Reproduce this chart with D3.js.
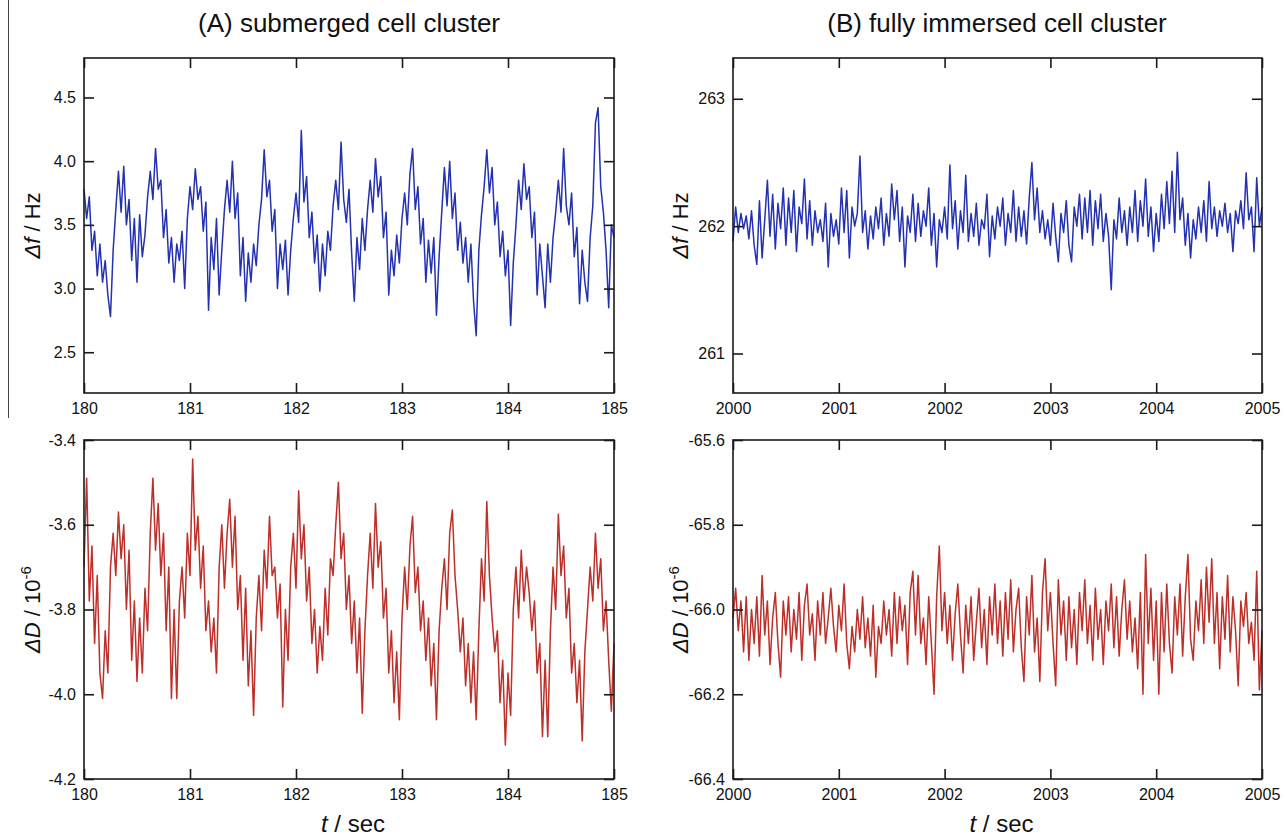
<!DOCTYPE html>
<html>
<head>
<meta charset="utf-8">
<script src="https://cdn.jsdelivr.net/npm/d3@7"></script>
<style>
  body { margin: 0; background: #fff; }
  svg text { font-family: "Liberation Sans", Arial, sans-serif; fill: #111; }
</style>
</head>
<body>
<svg id="chart" width="1287" height="837"></svg>
<script>
// Data. Samples are 0.025 s apart.
const titles = ["(A) submerged cell cluster", "(B) fully immersed cell cluster"];
const sampleStep = 0.025;
const tickTimeA = [180, 181, 182, 183, 184, 185];
const tickTimeB = [2000, 2001, 2002, 2003, 2004, 2005];
const tickFreqA = [2.5, 3.0, 3.5, 4.0, 4.5];
const tickFreqB = [261, 262, 263];
const tickDissA = [-4.2, -4.0, -3.8, -3.6, -3.4];
const tickDissB = [-66.4, -66.2, -66.0, -65.8, -65.6];

const freqA = [
  3.78,3.55,3.72,3.30,3.45,3.10,3.35,3.05,3.22,2.95,
  2.78,3.30,3.62,3.92,3.60,3.96,3.50,3.70,3.22,3.55,
  3.05,3.58,3.25,3.42,3.72,3.92,3.70,4.10,3.78,3.85,
  3.40,3.62,3.20,3.40,3.05,3.35,3.22,3.45,3.00,3.55,
  3.80,3.62,3.94,3.70,3.80,3.45,3.68,2.83,3.40,3.15,
  3.55,2.95,3.30,3.62,3.85,3.60,4.00,3.55,3.75,3.10,
  3.40,2.90,3.28,3.05,3.35,3.18,3.50,3.70,4.09,3.72,
  3.85,3.45,3.62,3.00,3.35,3.15,3.38,2.95,3.30,3.55,
  3.75,3.52,4.24,3.68,3.88,3.40,3.60,3.20,3.42,2.98,
  3.35,3.10,3.45,3.30,3.65,3.85,3.62,4.15,3.70,3.52,
  3.78,3.28,2.90,3.40,3.15,3.55,3.30,3.62,3.85,3.60,
  4.02,3.72,3.88,3.40,3.60,2.95,3.30,3.10,3.42,3.20,
  3.55,3.75,3.50,3.90,4.10,3.62,3.80,3.35,3.55,3.05,
  3.38,3.12,3.40,2.79,3.25,3.60,3.95,3.65,4.00,3.55,
  3.75,3.30,3.52,3.20,3.40,3.05,3.35,2.90,2.63,3.30,
  3.58,3.80,4.09,3.75,3.95,3.50,3.68,3.25,3.45,3.10,
  3.30,2.71,3.20,3.50,3.85,3.62,3.98,3.70,3.80,3.40,
  3.60,2.95,3.35,3.10,2.85,3.35,3.05,3.40,3.60,3.85,
  3.60,4.10,3.65,3.50,3.75,3.25,3.48,2.88,3.30,3.05,
  2.90,3.40,3.65,4.30,4.42,3.80,3.60,3.30,2.85,3.50,
  3.40
];

const dissA = [
  -3.70,-3.49,-3.78,-3.65,-3.88,-3.72,-3.95,-4.01,-3.85,-3.95,
  -3.70,-3.62,-3.72,-3.57,-3.68,-3.60,-3.80,-3.66,-3.92,-3.78,
  -3.97,-3.82,-3.95,-3.75,-3.85,-3.62,-3.49,-3.66,-3.55,-3.72,
  -3.62,-3.85,-3.70,-4.01,-3.80,-4.01,-3.78,-3.70,-3.82,-3.62,
  -3.72,-3.445,-3.66,-3.58,-3.75,-3.65,-3.85,-3.78,-3.90,-3.82,
  -3.95,-3.70,-3.60,-3.75,-3.62,-3.54,-3.70,-3.58,-3.80,-3.72,
  -3.92,-3.75,-3.98,-3.85,-4.05,-3.82,-3.72,-3.85,-3.66,-3.75,
  -3.58,-3.72,-3.70,-3.82,-3.74,-4.03,-3.80,-3.92,-3.70,-3.62,
  -3.75,-3.52,-3.68,-3.60,-3.78,-3.70,-3.88,-3.80,-3.95,-3.84,
  -3.92,-3.75,-3.86,-3.68,-3.72,-3.60,-3.50,-3.68,-3.62,-3.80,
  -3.72,-3.88,-3.78,-3.95,-3.82,-4.045,-3.85,-3.72,-3.62,-3.75,
  -3.55,-3.70,-3.64,-3.82,-3.75,-3.95,-3.85,-4.02,-3.90,-4.06,
  -3.82,-3.70,-3.80,-3.65,-3.58,-3.76,-3.70,-3.85,-3.78,-3.92,
  -3.82,-3.98,-3.88,-4.06,-3.85,-3.75,-3.68,-3.80,-3.62,-3.565,
  -3.72,-3.80,-3.90,-3.82,-3.98,-3.88,-4.02,-3.90,-4.06,-3.85,
  -3.68,-3.78,-3.545,-3.72,-3.82,-3.90,-3.85,-4.02,-3.92,-4.12,
  -3.95,-4.05,-3.80,-3.70,-3.82,-3.66,-3.78,-3.70,-3.76,-3.85,
  -3.78,-3.95,-3.88,-4.10,-3.92,-4.10,-3.85,-3.70,-3.80,-3.575,
  -3.72,-3.65,-3.82,-3.75,-3.95,-3.88,-4.02,-3.92,-4.11,-3.90,
  -3.80,-3.70,-3.78,-3.62,-3.75,-3.68,-3.85,-3.78,-3.92,-4.04,
  -3.88
];

const freqB = [
  261.88,262.15,261.95,262.10,261.98,262.08,261.90,262.12,261.85,261.70,
  262.20,261.75,262.05,262.36,261.92,262.25,261.82,262.18,261.98,262.30,
  261.85,262.22,261.95,262.28,261.80,262.15,262.02,262.37,261.90,262.20,
  261.85,262.12,261.95,262.05,261.88,262.18,261.68,262.10,261.92,262.05,
  261.86,262.30,261.95,262.28,261.75,262.15,262.00,262.10,262.55,261.95,
  262.12,261.82,262.08,261.90,262.15,261.98,262.22,261.85,262.10,261.92,
  262.33,262.05,262.28,261.88,262.15,261.68,262.08,261.95,262.25,261.88,
  262.18,261.92,262.12,262.00,262.30,261.85,262.10,261.68,262.05,261.95,
  262.15,261.90,262.48,261.98,262.20,261.82,262.12,261.95,262.40,261.88,
  262.10,261.92,262.18,261.85,262.05,261.98,262.25,261.76,262.08,261.90,
  262.15,262.00,262.22,261.85,262.10,261.95,262.28,261.88,262.15,261.92,
  262.12,261.86,262.22,262.50,262.05,262.30,261.95,262.12,261.90,262.05,
  261.85,262.18,261.92,261.72,262.10,261.95,262.20,261.85,261.72,262.15,
  262.00,262.25,261.90,262.22,261.95,262.28,261.85,262.20,261.98,262.25,
  261.88,262.10,261.92,261.50,262.05,261.90,262.22,261.95,262.12,261.85,
  262.15,261.95,262.28,261.88,262.20,262.00,262.37,261.92,262.15,261.80,
  262.10,261.88,262.25,261.98,262.35,262.02,262.43,261.95,262.58,262.05,
  262.22,261.85,262.10,261.75,262.05,261.90,262.15,261.95,262.20,261.88,
  262.35,261.98,262.15,261.92,262.12,262.00,262.18,261.95,262.10,261.80,
  262.12,262.02,262.20,261.98,262.42,262.05,262.15,261.80,262.38,262.00,
  262.15
];

const dissB = [
  -66.02,-65.95,-66.05,-65.98,-66.10,-65.97,-66.12,-66.00,-66.08,-65.97,
  -66.11,-65.92,-66.06,-65.98,-66.13,-66.02,-65.96,-66.08,-66.16,-65.98,
  -66.06,-65.97,-66.10,-66.00,-66.07,-65.96,-66.12,-65.99,-65.94,-66.06,
  -66.01,-66.12,-65.98,-66.06,-65.96,-66.08,-66.02,-65.95,-66.04,-66.10,
  -65.99,-66.05,-65.94,-66.08,-66.14,-66.04,-66.10,-66.00,-66.07,-65.97,
  -66.09,-66.02,-66.11,-65.99,-66.16,-66.04,-66.08,-65.98,-66.06,-66.00,
  -66.11,-65.96,-66.08,-65.97,-66.05,-65.99,-66.13,-65.96,-65.91,-66.06,
  -65.92,-66.08,-66.02,-66.13,-65.97,-66.08,-66.20,-65.97,-65.85,-66.05,
  -65.96,-66.08,-65.99,-66.12,-66.01,-65.94,-66.06,-66.15,-65.99,-66.08,
  -65.97,-66.12,-66.03,-65.95,-66.09,-66.00,-66.13,-65.97,-66.06,-65.94,
  -66.08,-65.98,-66.11,-65.96,-66.07,-65.93,-66.10,-66.00,-65.95,-66.09,
  -66.17,-65.97,-66.06,-65.92,-66.10,-66.02,-66.17,-65.96,-65.88,-66.05,
  -65.96,-66.08,-66.18,-65.93,-66.06,-65.98,-66.12,-65.97,-66.09,-66.00,
  -66.13,-65.96,-66.05,-65.93,-66.08,-65.99,-66.12,-65.95,-66.07,-66.00,
  -66.13,-65.98,-66.05,-65.94,-66.09,-65.97,-66.11,-66.00,-65.93,-66.07,
  -65.98,-66.10,-66.02,-66.14,-65.96,-66.20,-65.87,-66.08,-65.95,-66.12,
  -65.98,-66.20,-65.96,-66.10,-65.94,-66.08,-66.15,-65.97,-66.06,-65.94,
  -66.11,-65.97,-65.87,-66.07,-66.12,-65.98,-66.05,-65.93,-66.08,-65.90,
  -66.03,-65.88,-66.08,-65.96,-66.14,-65.97,-66.07,-65.92,-66.10,-65.97,
  -66.05,-66.18,-65.98,-66.04,-65.96,-66.08,-66.03,-66.12,-65.91,-66.19,
  -66.05
];

var fig = {};
fig.svg = d3.select("#chart");

fig.panel = function(p) {
  var x = d3.scaleLinear().domain([p.ticksX[0], p.ticksX[p.ticksX.length - 1]]).range([p.left, p.right]);
  var y = d3.scaleLinear().domain(p.yDomain).range([p.bottom, p.top]);
  var g = fig.svg.append("g");

  var pts = p.values.map((v, i) => [p.ticksX[0] + i * sampleStep, v]);
  g.append("path")
    .datum(pts)
    .attr("fill", "none")
    .attr("stroke", p.color)
    .attr("stroke-width", 1.5)
    .attr("stroke-linejoin", "round")
    .attr("d", d3.line().x(d => x(d[0])).y(d => y(d[1])));

  // axes with inward ticks on all four sides
  var tick = 10;
  g.append("g")
    .attr("transform", "translate(0," + p.bottom + ")")
    .call(d3.axisBottom(x).tickValues(p.ticksX).tickFormat(d3.format("d"))
      .tickSizeInner(-tick).tickSizeOuter(0).tickPadding(10));
  g.append("g")
    .attr("transform", "translate(0," + p.top + ")")
    .call(d3.axisTop(x).tickValues(p.ticksX).tickFormat("")
      .tickSizeInner(-tick).tickSizeOuter(0));
  g.append("g")
    .attr("transform", "translate(" + p.left + ",0)")
    .call(d3.axisLeft(y).tickValues(p.ticksY).tickFormat(p.fmt)
      .tickSizeInner(-tick).tickSizeOuter(0).tickPadding(8));
  g.append("g")
    .attr("transform", "translate(" + p.right + ",0)")
    .call(d3.axisRight(y).tickValues(p.ticksY).tickFormat("")
      .tickSizeInner(-tick).tickSizeOuter(0));

  g.selectAll(".domain").remove();
  g.selectAll(".tick line").attr("stroke", "#1a1a1a").attr("stroke-width", 1.6);
  g.selectAll(".tick text").attr("font-size", 16).attr("fill", "#111")
    .attr("font-family", "'Liberation Sans', Arial, sans-serif");

  g.append("rect")
    .attr("x", p.left).attr("y", p.top)
    .attr("width", p.right - p.left).attr("height", p.bottom - p.top)
    .attr("fill", "none").attr("stroke", "#1a1a1a").attr("stroke-width", 1.6);

  // y axis title
  var yl = g.append("text")
    .attr("transform", "translate(" + p.labelX + "," + ((p.top + p.bottom) / 2) + ") rotate(-90)")
    .attr("text-anchor", "middle")
    .attr("font-size", 22);
  yl.append("tspan").attr("font-style", "italic").text(p.yName);
  yl.append("tspan").text(" / " + p.yUnit);
  if (p.yExp) {
    yl.append("tspan").attr("font-size", 15).attr("dy", "-0.6em").text(p.yExp);
  }

  if (p.xTitle) {
    var xl = g.append("text")
      .attr("x", (p.left + p.right) / 2 + 4).attr("y", p.bottom + 53)
      .attr("text-anchor", "middle")
      .attr("font-size", 24);
    xl.append("tspan").attr("font-style", "italic").text("t");
    xl.append("tspan").text(" / sec");
  }
};

var fmt1 = d => d.toFixed(1);
var fmt0 = d => d.toFixed(0);

var panels = [
  { left: 84, right: 614, top: 58, bottom: 393, yDomain: [2.18, 4.81],
    ticksX: tickTimeA, ticksY: tickFreqA, fmt: fmt1, values: freqA, color: "#2431b0",
    labelX: 40, yName: "\u0394f", yUnit: "Hz" },
  { left: 84, right: 614, top: 440, bottom: 779, yDomain: [-4.2, -3.4],
    ticksX: tickTimeA, ticksY: tickDissA, fmt: fmt1, values: dissA, color: "#bd2f29",
    labelX: 40, yName: "\u0394D", yUnit: "10", yExp: "-6", xTitle: true },
  { left: 733, right: 1262, top: 58, bottom: 393, yDomain: [260.69, 263.32],
    ticksX: tickTimeB, ticksY: tickFreqB, fmt: fmt0, values: freqB, color: "#2431b0",
    labelX: 688, yName: "\u0394f", yUnit: "Hz" },
  { left: 733, right: 1262, top: 440, bottom: 779, yDomain: [-66.4, -65.6],
    ticksX: tickTimeB, ticksY: tickDissB, fmt: fmt1, values: dissB, color: "#bd2f29",
    labelX: 688, yName: "\u0394D", yUnit: "10", yExp: "-6", xTitle: true }
];

panels.forEach(fig.panel);

// column titles
fig.svg.selectAll(".title")
  .data(titles)
  .enter().append("text")
  .attr("class", "title")
  .attr("x", (d, i) => i === 0 ? 349 : 997)
  .attr("y", 32)
  .attr("text-anchor", "middle")
  .attr("font-size", 26)
  .text(d => d);

// thin rule at the left edge of the original figure
fig.svg.append("line")
  .attr("x1", 8.5).attr("x2", 8.5).attr("y1", 0).attr("y2", 418)
  .attr("stroke", "#444").attr("stroke-width", 1);
</script>
</body>
</html>
